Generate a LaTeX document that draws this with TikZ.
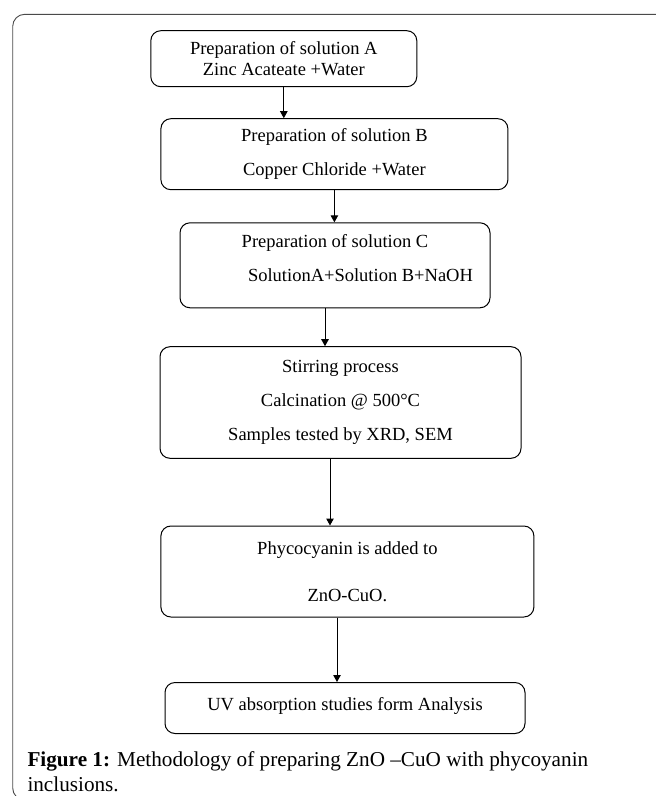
\documentclass[tikz,border=0pt]{standalone}
\usepackage{fontspec}
\setmainfont{Liberation Serif}
\usetikzlibrary{arrows.meta}

\begin{document}
\begin{tikzpicture}[x=1pt, y=-1pt,
    stepBox/.style={draw=borderColour, line width=1pt, rounded corners=10pt, align=center, inner sep=0pt, font=\fontsize{18.5}{20.7}\selectfont},
    flowArrow/.style={draw=borderColour, line width=1pt, -{Triangle[length=7pt, width=7.5pt]}}]
    \def\stepGap{13.3pt}

    \definecolor{borderColour}{HTML}{000000}
    \definecolor{frameColour}{HTML}{4A4A4A}

    % Page and outer frame
    \clip (0,0) rectangle (656,796);
    \draw[frameColour, line width=0.9pt, rounded corners=12pt] (12.7,14.3) rectangle (700,800);

    % Steps of the method
    \node[stepBox, minimum width=266pt, minimum height=56pt] (solA) at (283.8,58.7)
        {Preparation of solution A\\Zinc Acateate +Water};
    \node[stepBox, minimum width=347pt, minimum height=71pt] (solB) at (334.4,154.2)
        {Preparation of solution B\\[\stepGap]Copper Chloride +Water};
    \node[stepBox, minimum width=310pt, minimum height=85pt, text depth=14pt] (solC) at (335,265.3)
        {Preparation of solution C\\[\stepGap]\hspace*{51pt}SolutionA+Solution B+NaOH};
    \node[stepBox, minimum width=361pt, minimum height=111.6pt] (stirStep) at (340.5,402.5)
        {Stirring process\\[\stepGap]Calcination @ 500\textdegree C\\[\stepGap]Samples tested by XRD, SEM};
    \node[stepBox, minimum width=373pt, minimum height=91pt] (addStep) at (347.4,571.5)
        {Phycocyanin is added to\\[26.3pt]ZnO-CuO.};
    \node[stepBox, minimum width=360pt, minimum height=51pt, text depth=9pt] (uvStep) at (345,708)
        {UV absorption studies form Analysis};

    % Draw arrows between steps
    \draw[flowArrow] (solA.south) -- (solA.south |- solB.north);
    \draw[flowArrow] (solB.south) -- (solB.south |- solC.north);
    \draw[flowArrow] ([xshift=-10pt]solC.south) -- ([xshift=-10pt]solC.south |- stirStep.north);
    \draw[flowArrow] ([xshift=-10.5pt]stirStep.south) -- ([xshift=-10.5pt]stirStep.south |- addStep.north);
    \draw[flowArrow] ([xshift=-10.4pt]addStep.south) -- ([xshift=-10.4pt]addStep.south |- uvStep.north);

    % Caption
    \node[anchor=base west, inner sep=0pt, font=\fontsize{21.2}{25.7}\selectfont] (capLineA) at (27.3,766)
        {\textbf{Figure 1:} Methodology of preparing ZnO –CuO with phycoyanin};
    \node[anchor=base west, inner sep=0pt, font=\fontsize{21.2}{25.7}\selectfont] (capLineB) at (27.3,791.7)
        {inclusions.};

\end{tikzpicture}
\end{document}
